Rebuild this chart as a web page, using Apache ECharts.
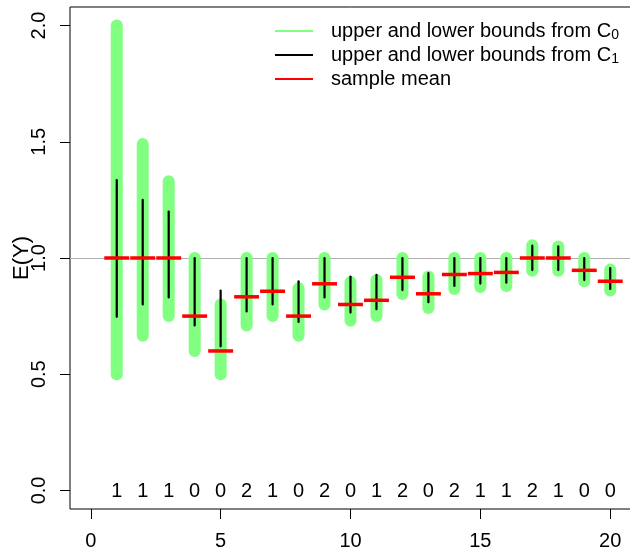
<!DOCTYPE html>
<html>
<head>
<meta charset="utf-8">
<script src="https://cdn.jsdelivr.net/npm/echarts@6/dist/echarts.min.js"></script>
<style>
  html, body { margin: 0; padding: 0; background: #fff; }
  #chart { width: 630px; height: 547px; }
</style>
</head>
<body>
<div id="chart"></div>
<script>
// Sample index along the x axis
const sampleIdx = [1, 2, 3, 4, 5, 6, 7, 8, 9, 10, 11, 12, 13, 14, 15, 16, 17, 18, 19, 20];
// Observed count at each step (printed along the bottom)
const counts = [1, 1, 1, 0, 0, 2, 1, 0, 2, 0, 1, 2, 0, 2, 1, 1, 2, 1, 0, 0];
// Bounds from C0
const c0Lower = [0.50, 0.665, 0.75, 0.60, 0.50, 0.71, 0.75, 0.665, 0.80, 0.73, 0.75, 0.845, 0.785, 0.867, 0.875, 0.88, 0.945, 0.945, 0.90, 0.86];
const c0Upper = [2.00, 1.49, 1.33, 1.00, 0.80, 1.00, 1.00, 0.87, 1.00, 0.897, 0.905, 1.00, 0.92, 1.00, 1.00, 1.00, 1.055, 1.05, 1.00, 0.95];
// Bounds from C1
const c1Lower = [0.747, 0.80, 0.83, 0.71, 0.62, 0.77, 0.80, 0.725, 0.83, 0.765, 0.78, 0.862, 0.81, 0.88, 0.89, 0.894, 0.948, 0.948, 0.905, 0.867];
const c1Upper = [1.335, 1.25, 1.20, 1.00, 0.86, 1.00, 1.00, 0.90, 1.00, 0.92, 0.927, 1.00, 0.935, 1.00, 1.00, 1.00, 1.053, 1.05, 1.00, 0.957];
// Running sample mean
const sampleMean = [1.0, 1.0, 1.0, 0.75, 0.60, 0.833, 0.857, 0.75, 0.889, 0.80, 0.818, 0.917, 0.846, 0.929, 0.933, 0.938, 1.0, 1.0, 0.947, 0.90];
// Axis ticks
const xTicks = [0, 5, 10, 15, 20];
const yTicks = [0, 0.5, 1, 1.5, 2];

const FONT = '"Liberation Sans", Arial, Helvetica, sans-serif';
const GREEN = '#80FF80';

const chart = echarts.init(document.getElementById('chart'), null, { renderer: 'canvas' });

function vSeg(width, color) {
  return function (params, api) {
    const p1 = api.coord([api.value(0), api.value(1)]);
    const p2 = api.coord([api.value(0), api.value(2)]);
    return {
      type: 'line',
      shape: { x1: p1[0], y1: p1[1], x2: p2[0], y2: p2[1] },
      style: { stroke: color, lineWidth: width, lineCap: 'round' }
    };
  };
}

const option = {
  animation: false,
  backgroundColor: '#fff',
  textStyle: { fontFamily: FONT },
  grid: {
    left: 70, right: -1, top: 7, bottom: 38,
    containLabel: false,
    outerBoundsMode: 'none',
    show: true, borderColor: '#000', borderWidth: 1, backgroundColor: 'transparent'
  },
  legend: {
    orient: 'vertical',
    left: 270, top: 14,
    itemWidth: 38, itemHeight: 2, itemGap: 0,
    icon: 'rect',
    selectedMode: false,
    textStyle: {
      fontFamily: FONT, fontSize: 20, color: '#000', lineHeight: 24,
      padding: [0, 0, 0, 13],
      rich: {
        t: { fontFamily: FONT, fontSize: 20, color: '#000', lineHeight: 24 },
        s: { fontFamily: FONT, fontSize: 14, color: '#000', lineHeight: 24, padding: [9, 0, 0, 0] }
      }
    },
    formatter: function (name) {
      if (name === 'C0') return '{t|upper and lower bounds from C}{s|0}';
      if (name === 'C1') return '{t|upper and lower bounds from C}{s|1}';
      return '{t|sample mean}';
    },
    data: ['C0', 'C1', 'mean']
  },
  xAxis: {
    type: 'value',
    min: -0.8, max: 20.8,
    splitLine: { show: false },
    axisLine: { show: false, onZero: false },
    axisTick: { show: true, length: 10, lineStyle: { color: '#000', width: 1 }, customValues: xTicks },
    axisLabel: { customValues: xTicks, margin: 22, fontSize: 20, color: '#000', fontFamily: FONT }
  },
  yAxis: {
    type: 'value',
    min: -0.08, max: 2.08,
    name: 'E(Y)',
    nameLocation: 'middle',
    nameRotate: 90,
    nameGap: 37,
    nameMoveOverlap: false,
    nameTextStyle: { fontSize: 22, color: '#000', fontFamily: FONT },
    splitLine: { show: false },
    axisLine: { show: false, onZero: false },
    axisTick: { show: true, length: 10, lineStyle: { color: '#000', width: 1 }, customValues: yTicks },
    axisLabel: {
      customValues: yTicks, margin: 21, rotate: 90, fontSize: 20, color: '#000', fontFamily: FONT,
      formatter: v => v.toFixed(1)
    }
  },
  series: [
    {
      name: 'C0',
      type: 'custom',
      color: GREEN,
      clip: false,
      encode: { x: 0, y: [1, 2] },
      data: sampleIdx.map((x, i) => [x, c0Lower[i], c0Upper[i]]),
      renderItem: vSeg(12, GREEN),
      markLine: {
        silent: true,
        symbol: 'none',
        label: { show: false },
        lineStyle: { color: '#b0b0b0', width: 1, type: 'solid' },
        data: [{ yAxis: 1 }],
        z: 1
      },
      z: 2
    },
    {
      name: 'C1',
      type: 'custom',
      color: '#000',
      encode: { x: 0, y: [1, 2] },
      data: sampleIdx.map((x, i) => [x, c1Lower[i], c1Upper[i]]),
      renderItem: vSeg(2.2, '#000'),
      z: 3
    },
    {
      name: 'mean',
      type: 'custom',
      color: '#FF0000',
      encode: { x: 0, y: 1 },
      data: sampleIdx.map((x, i) => [x, sampleMean[i]]),
      renderItem: function (params, api) {
        const x = api.value(0), y = api.value(1);
        const p1 = api.coord([x - 0.48, y]);
        const p2 = api.coord([x + 0.48, y]);
        return {
          type: 'line',
          shape: { x1: p1[0], y1: p1[1], x2: p2[0], y2: p2[1] },
          style: { stroke: '#FF0000', lineWidth: 3.5, lineCap: 'butt' }
        };
      },
      z: 4
    },
    {
      name: 'counts',
      type: 'custom',
      encode: { x: 0, y: 1 },
      data: sampleIdx.map((x, i) => [x, 0, counts[i]]),
      renderItem: function (params, api) {
        const p = api.coord([api.value(0), api.value(1)]);
        return {
          type: 'text',
          style: {
            x: p[0], y: p[1] + 1,
            text: String(api.value(2)),
            align: 'center', verticalAlign: 'middle',
            fontSize: 20, fontFamily: FONT, fill: '#000'
          }
        };
      },
      z: 5
    }
  ]
};

chart.setOption(option);
</script>
</body>
</html>
